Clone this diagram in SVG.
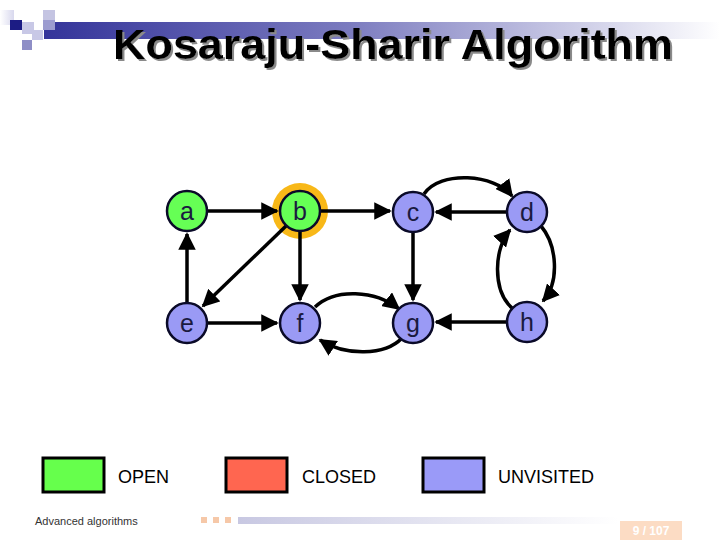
<svg xmlns="http://www.w3.org/2000/svg" width="720" height="540" viewBox="0 0 720 540">
<defs>
<linearGradient id="hdr" x1="0" x2="1" y1="0" y2="0">
<stop offset="0" stop-color="#34349a"/>
<stop offset="0.45" stop-color="#7b7bbf"/>
<stop offset="1" stop-color="#ffffff"/>
</linearGradient>
<linearGradient id="ftr" x1="0" x2="1" y1="0" y2="0">
<stop offset="0" stop-color="#c8c8e2"/>
<stop offset="1" stop-color="#ffffff"/>
</linearGradient>
<linearGradient id="hfade" x1="0" x2="1" y1="0" y2="0">
<stop offset="0" stop-color="#ffffff"/>
<stop offset="1" stop-color="#d8d8ee"/>
</linearGradient>
<filter id="shadow" x="-5%" y="-20%" width="110%" height="150%">
<feDropShadow dx="2" dy="2" stdDeviation="0.6" flood-color="#8a8a8a" flood-opacity="1"/>
</filter>
<marker id="ah" viewBox="0 0 10 10" refX="9" refY="5" markerWidth="5" markerHeight="5" markerUnits="strokeWidth" orient="auto">
<path d="M0,0 L10,5 L0,10 z" fill="#000"/>
</marker>
<style>
.node circle{stroke:#0a0a28;stroke-width:2.5}
.open{fill:#66ff55}
.unv{fill:#9a9af5}
.lbl{font-family:"Liberation Sans",Arial,sans-serif;font-size:25px;fill:#1a1a40;text-anchor:middle}
.edge{fill:none;stroke:#000;stroke-width:3.5;marker-end:url(#ah)}
.leg{font-family:"Liberation Sans",Arial,sans-serif;font-size:18px;fill:#000}
.box{stroke:#000;stroke-width:3}
</style>
</defs>
<rect width="720" height="540" fill="#fff"/>
<!-- header decoration -->
<rect x="44" y="22" width="676" height="17" fill="url(#hdr)"/>
<rect x="0" y="10" width="14" height="15" fill="url(#hfade)"/>
<rect x="10" y="20" width="12" height="10" fill="#1c1c84"/>
<rect x="22" y="22" width="12" height="12" fill="#c8c8e6"/>
<rect x="43" y="10" width="12" height="10" fill="#c4c4e2"/>
<rect x="43" y="20" width="12" height="10" fill="#9c9cd0"/>
<rect x="32" y="30" width="11" height="10" fill="#c8c8e6"/>
<rect x="22" y="40" width="10" height="10" fill="#8e8ec6"/>
<text x="113" y="59" font-family="Liberation Sans,Arial,sans-serif" font-size="42" font-weight="bold" fill="#000" textLength="560" lengthAdjust="spacingAndGlyphs" filter="url(#shadow)">Kosaraju-Sharir Algorithm</text>
<!-- halo -->
<circle cx="300" cy="211" r="28" fill="#f8b818"/>
<g id="connectors">
<line class="edge" x1="208" y1="211" x2="277" y2="211"/>
<line class="edge" x1="321" y1="211" x2="390" y2="211"/>
<line class="edge" x1="506" y1="212" x2="436" y2="212"/>
<path class="edge" d="M424,194 C440,170 495,174 512,196"/>
<line class="edge" x1="286" y1="226" x2="203" y2="306"/>
<line class="edge" x1="300" y1="232" x2="300" y2="300"/>
<line class="edge" x1="187" y1="302" x2="187" y2="234"/>
<line class="edge" x1="208" y1="323" x2="277" y2="323"/>
<line class="edge" x1="413" y1="233" x2="413" y2="300"/>
<line class="edge" x1="506" y1="322" x2="436" y2="322"/>
<path class="edge" d="M315,307 C335,288 375,290 399,309"/>
<path class="edge" d="M402,338 C385,356 345,356 320,340"/>
<path class="edge" d="M541,226 C557,245 560,282 543,301"/>
<path class="edge" d="M512,308 C492,290 494,248 510,230"/>
</g>
<g id="a" class="node"><circle class="open" cx="187" cy="211" r="20"/><text class="lbl" x="187" y="220">a</text></g>
<g id="b" class="node"><circle class="open" cx="300" cy="211" r="20"/><text class="lbl" x="300" y="220">b</text></g>
<g id="c" class="node"><circle class="unv" cx="413" cy="212" r="20"/><text class="lbl" x="413" y="221">c</text></g>
<g id="d" class="node"><circle class="unv" cx="527" cy="212" r="20"/><text class="lbl" x="527" y="221">d</text></g>
<g id="e" class="node"><circle class="unv" cx="187" cy="323" r="20"/><text class="lbl" x="187" y="332">e</text></g>
<g id="f" class="node"><circle class="unv" cx="300" cy="323" r="20"/><text class="lbl" x="300" y="332">f</text></g>
<g id="g" class="node"><circle class="unv" cx="413" cy="323" r="20"/><text class="lbl" x="413" y="332">g</text></g>
<g id="h" class="node"><circle class="unv" cx="527" cy="322" r="20"/><text class="lbl" x="527" y="331">h</text></g>
<!-- legend -->
<g id="legend">
<rect class="box" x="43" y="458" width="61" height="34" fill="#66ff4c"/>
<text class="leg" x="118" y="483">OPEN</text>
<rect class="box" x="226" y="458" width="61" height="34" fill="#ff6650"/>
<text class="leg" x="302" y="483">CLOSED</text>
<rect class="box" x="423" y="458" width="61" height="34" fill="#9a9af8"/>
<text class="leg" x="498" y="483">UNVISITED</text>
</g>
<!-- footer -->
<text x="35" y="525" font-family="Liberation Sans,Arial,sans-serif" font-size="11" fill="#333">Advanced algorithms</text>
<rect x="201" y="517" width="6" height="6" fill="#f6c8a8"/>
<rect x="213" y="517" width="6" height="6" fill="#f6c8a8"/>
<rect x="225" y="517" width="6" height="6" fill="#f6c8a8"/>
<rect x="238" y="517" width="380" height="7" fill="url(#ftr)"/>
<rect x="620" y="521" width="62" height="19" fill="#fcdcc4"/>
<text x="651" y="535" font-family="Liberation Sans,Arial,sans-serif" font-size="12" font-weight="bold" fill="#fff" text-anchor="middle">9 / 107</text>
</svg>
